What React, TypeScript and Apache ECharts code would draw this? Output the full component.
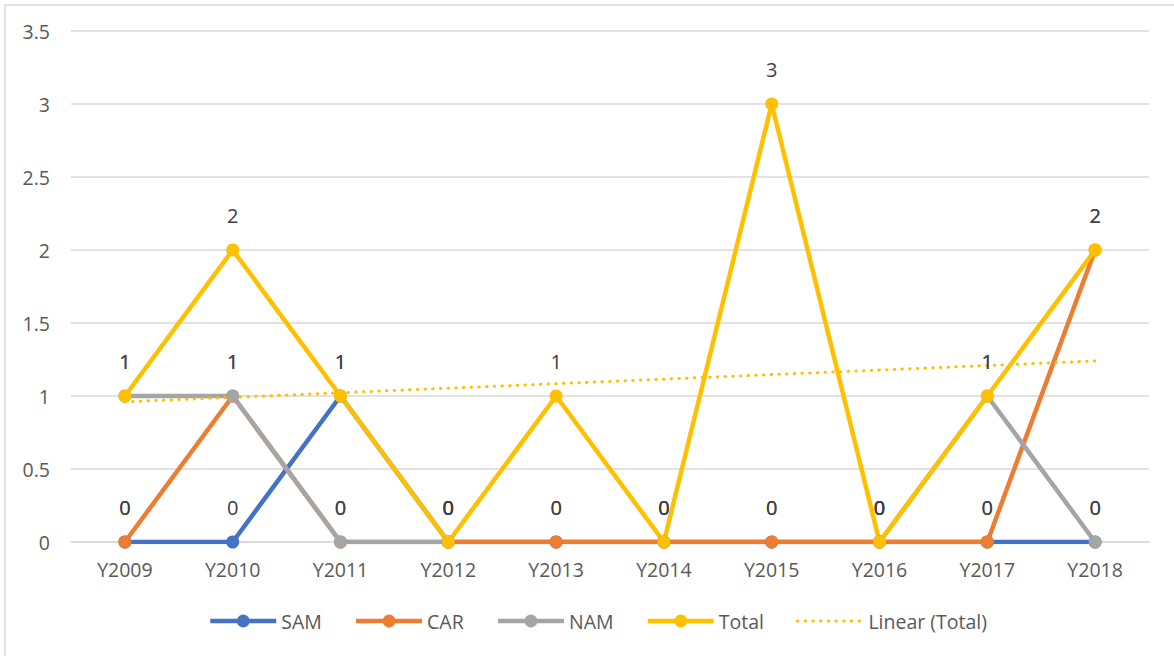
import React, { useEffect, useRef } from "react";
import * as echarts from "echarts";

const categories = ["Y2009", "Y2010", "Y2011", "Y2012", "Y2013", "Y2014", "Y2015", "Y2016", "Y2017", "Y2018"];
const samValues = [0, 0, 1, 0, 0, 0, 0, 0, 0, 0];
const carValues = [0, 1, 0, 0, 0, 0, 0, 0, 0, 2];
const namValues: (number | null)[] = [1, 1, 0, 0, null, null, null, 0, 1, 0];
const totalValues = [1, 2, 1, 0, 1, 0, 3, 0, 1, 2];
// Linear (Total) trendline end points
const trendStart = 0.96;
const trendEnd = 1.24;
const trendValues: (number | null)[] = [trendStart, null, null, null, null, null, null, null, null, trendEnd];
const yTicks = { min: 0, max: 3.5, interval: 0.5 };

const FONT = "'Open Sans', 'Noto Sans', sans-serif";
const TREND_DASH = [0.5, 7.2];

export default function App() {
  const ref = useRef<HTMLDivElement>(null);
  useEffect(() => {
    document.body.style.margin = "0";
    if (!ref.current) return;
    const chart = echarts.init(ref.current, null, { renderer: "svg" });
    const lineSeries = (name: string, data: (number | null)[], color: string) => ({
      name,
      type: "line",
      data,
      symbol: "circle",
      symbolSize: 13,
      showAllSymbol: true,
      connectNulls: false,
      itemStyle: { color },
      lineStyle: { color, width: 4.5 },
      label: {
        show: true,
        position: "top",
        distance: 18,
        color: "#404040",
        fontSize: 20,
        fontFamily: FONT,
      },
      emphasis: { disabled: true },
    });
    chart.setOption({
      animation: false,
      textStyle: { fontFamily: FONT },
      graphic: [
        {
          type: "rect",
          shape: { x: 5, y: 5, width: 1180, height: 660 },
          style: { fill: "none", stroke: "#d9d9d9", lineWidth: 1.5 },
          silent: true,
        },
      ],
      grid: { left: 71, right: 25, top: 31, bottom: 114, containLabel: false },
      xAxis: {
        type: "category",
        data: categories,
        boundaryGap: true,
        axisLine: { show: true, lineStyle: { color: "#d9d9d9", width: 1.5 } },
        axisTick: { show: false },
        axisLabel: { color: "#595959", fontSize: 19.5, fontFamily: FONT, margin: 17 },
      },
      yAxis: {
        type: "value",
        min: yTicks.min,
        max: yTicks.max,
        interval: yTicks.interval,
        axisLine: { show: false },
        axisTick: { show: false },
        splitLine: { lineStyle: { color: "#d9d9d9", width: 1.5 } },
        axisLabel: { color: "#595959", fontSize: 19.5, fontFamily: FONT, margin: 21 },
      },
      legend: {
        top: 606,
        left: 203,
        itemWidth: 66,
        itemHeight: 16,
        itemGap: 32,
        lineStyle: { width: 4.5 },
        textStyle: { color: "#595959", fontSize: 19.5, fontFamily: FONT },
        data: [
          "SAM",
          "CAR",
          "NAM",
          "Total",
          {
            name: "Linear (Total)",
            itemStyle: { opacity: 0 },
            lineStyle: { width: 3, type: TREND_DASH, cap: "round" },
          },
        ],
      },
      series: [
        lineSeries("SAM", samValues, "#4472C4"),
        lineSeries("CAR", carValues, "#ED7D31"),
        lineSeries("NAM", namValues, "#A5A5A5"),
        lineSeries("Total", totalValues, "#FFC000"),
        {
          name: "Linear (Total)",
          type: "line",
          data: trendValues,
          connectNulls: true,
          symbol: "none",
          itemStyle: { color: "#FFC000" },
          lineStyle: { color: "#FFC000", width: 3, type: TREND_DASH, cap: "round" },
          emphasis: { disabled: true },
        },
      ],
    });
    return () => chart.dispose();
  }, []);
  return <div ref={ref} style={{ position: "absolute", left: 0, top: 0, width: 1174, height: 656 }} />;
}
